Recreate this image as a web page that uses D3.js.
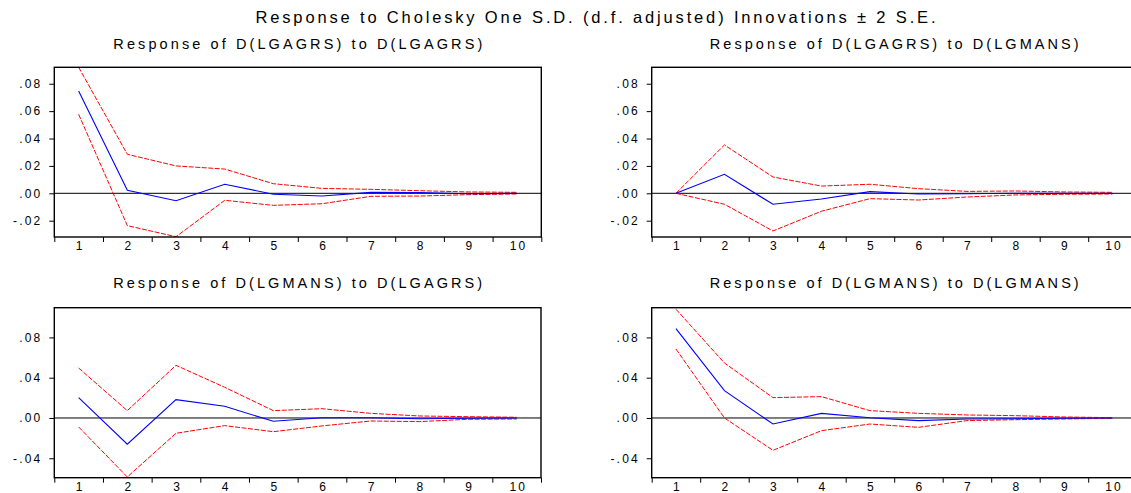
<!DOCTYPE html>
<html>
<head>
<meta charset="utf-8">
<script src="https://cdn.jsdelivr.net/npm/d3@7"></script>
<style>
  body { margin: 0; background: #fff; }
  svg { display: block; font-family: "Liberation Sans", Arial, sans-serif; }
  .tick text { font-size: 12px; letter-spacing: 2.2px; fill: #000; }
  .tick line { stroke: #000; }
</style>
</head>
<body>
<div id="chart"></div>
<script>
// ===== Data =====
const steps = [1, 2, 3, 4, 5, 6, 7, 8, 9, 10];

// Response of D(LGAGRS) to D(LGAGRS)
const resp11  = [0.0747, 0.0022, -0.0054, 0.0066, -0.0007, -0.0020, 0.0007, 0.0005, -0.0003, 0.0000];
const upper11 = [0.0920, 0.0285, 0.0200, 0.0177, 0.0070, 0.0036, 0.0029, 0.0019, 0.0010, 0.0007];
const lower11 = [0.0577, -0.0236, -0.0317, -0.0051, -0.0088, -0.0076, -0.0022, -0.0020, -0.0010, -0.0005];

// Response of D(LGAGRS) to D(LGMANS)
const resp12  = [0.0000, 0.0139, -0.0080, -0.0042, 0.0012, -0.0005, -0.0003, 0.0000, 0.0000, 0.0000];
const upper12 = [0.0000, 0.0353, 0.0119, 0.0053, 0.0066, 0.0034, 0.0014, 0.0017, 0.0010, 0.0007];
const lower12 = [0.0000, -0.0080, -0.0275, -0.0131, -0.0039, -0.0049, -0.0027, -0.0012, -0.0007, -0.0005];

// Response of D(LGMANS) to D(LGAGRS)
const resp21  = [0.0202, -0.0261, 0.0182, 0.0116, -0.0033, 0.0003, 0.0003, -0.0007, -0.0003, 0.0000];
const upper21 = [0.0496, 0.0073, 0.0523, 0.0305, 0.0073, 0.0092, 0.0046, 0.0020, 0.0013, 0.0007];
const lower21 = [-0.0089, -0.0586, -0.0152, -0.0076, -0.0136, -0.0079, -0.0030, -0.0036, -0.0013, -0.0010];

// Response of D(LGMANS) to D(LGMANS)
const resp22  = [0.0887, 0.0271, -0.0060, 0.0046, 0.0003, -0.0026, -0.0010, -0.0007, -0.0003, 0.0000];
const upper22 = [0.1080, 0.0546, 0.0202, 0.0212, 0.0073, 0.0046, 0.0030, 0.0023, 0.0010, 0.0003];
const lower22 = [0.0685, 0.0000, -0.0321, -0.0126, -0.0060, -0.0093, -0.0026, -0.0017, -0.0010, -0.0003];

// axis ranges and tick labels
const yDomainTop = [-0.0319, 0.0920];
const yDomainBottom = [-0.0593, 0.1095];
const yTicksTop = [-0.02, 0.00, 0.02, 0.04, 0.06, 0.08];
const yTicksBottom = [-0.04, 0.00, 0.04, 0.08];

const mainTitle = 'Response to Cholesky One S.D. (d.f. adjusted) Innovations \u00b1 2 S.E.';
const panelTitles = [
  'Response of D(LGAGRS) to D(LGAGRS)',
  'Response of D(LGAGRS) to D(LGMANS)',
  'Response of D(LGMANS) to D(LGAGRS)',
  'Response of D(LGMANS) to D(LGMANS)'
];

// ===== Layout =====
const W = 1131, H = 493;
const panels = [
  { x0: 54.3, x1: 541.3, y0: 67.3, y1: 237, dom: yDomainTop, ticks: yTicksTop, resp: resp11, up: upper11, lo: lower11, title: panelTitles[0], ty: 49 },
  { x0: 651.7, x1: 1136.7, y0: 67.3, y1: 237, dom: yDomainTop, ticks: yTicksTop, resp: resp12, up: upper12, lo: lower12, title: panelTitles[1], ty: 49 },
  { x0: 54.3, x1: 541.0, y0: 307.7, y1: 477.7, dom: yDomainBottom, ticks: yTicksBottom, resp: resp21, up: upper21, lo: lower21, title: panelTitles[2], ty: 288 },
  { x0: 651.7, x1: 1136.7, y0: 307.7, y1: 477.7, dom: yDomainBottom, ticks: yTicksBottom, resp: resp22, up: upper22, lo: lower22, title: panelTitles[3], ty: 288 }
];

const svg = d3.select('#chart')
  .append('svg')
  .attr('width', W)
  .attr('height', H);

svg.append('rect').attr('width', W).attr('height', H).attr('fill', '#fff');

svg.append('text')
  .attr('x', 595.5)
  .attr('y', 22.5)
  .attr('text-anchor', 'middle')
  .attr('font-size', 16.5)
  .attr('textLength', 680)
  .attr('lengthAdjust', 'spacing')
  .text(mainTitle);

// "-.02" style labels, as EViews prints them
const fmt = v => {
  if (Math.abs(v) < 1e-9) return '.00';
  const s = d3.format('.2f')(Math.abs(v)).replace(/^0/, '');
  return (v < 0 ? '-' : '') + s;
};

panels.forEach((p, i) => {
  const w = p.x1 - p.x0, h = p.y1 - p.y0;
  const g = svg.append('g').attr('transform', `translate(${p.x0},${p.y0})`);

  const x = d3.scaleLinear().domain([0.5, 10.5]).range([0, w]);
  const y = d3.scaleLinear().domain(p.dom).range([h, 0]);

  svg.append('text')
    .attr('x', p.x0 + w / 2)
    .attr('y', p.ty)
    .attr('text-anchor', 'middle')
    .attr('font-size', 14.5)
    .attr('textLength', 369)
    .attr('lengthAdjust', 'spacing')
    .text(p.title);

  // y axis
  g.append('g')
    .call(d3.axisLeft(y).tickValues(p.ticks).tickSize(5).tickPadding(9).tickFormat(fmt))
    .call(a => a.select('.domain').remove())
    .call(a => a.selectAll('text').attr('dx', '2.2px'));

  // x axis: tick marks between steps, labels on the steps
  g.append('g')
    .attr('transform', `translate(0,${h})`)
    .call(d3.axisBottom(x).tickValues(d3.range(0.5, 11, 1)).tickSize(5).tickFormat(''))
    .call(a => a.select('.domain').remove());

  g.append('g')
    .attr('transform', `translate(0,${h})`)
    .call(d3.axisBottom(x).tickValues(steps).tickSize(0).tickPadding(4.5).tickFormat(d3.format('d')))
    .call(a => a.select('.domain').remove())
    .call(a => a.selectAll('text').attr('dx', '1.1px'));

  const clipId = `clip${i}`;
  g.append('clipPath').attr('id', clipId)
    .append('rect').attr('width', w).attr('height', h);

  const plot = g.append('g').attr('clip-path', `url(#${clipId})`);

  plot.append('line')
    .attr('x1', 0).attr('x2', w)
    .attr('y1', y(0)).attr('y2', y(0))
    .attr('stroke', '#000').attr('stroke-width', 1);

  const line = d3.line().x((d, j) => x(steps[j])).y(d => y(d));

  [p.up, p.lo].forEach(band => {
    plot.append('path')
      .datum(band)
      .attr('d', line)
      .attr('fill', 'none')
      .attr('stroke', '#ff0000')
      .attr('stroke-width', 1)
      .attr('stroke-dasharray', '5,1.5');
  });

  plot.append('path')
    .datum(p.resp)
    .attr('d', line)
    .attr('fill', 'none')
    .attr('stroke', '#0000ff')
    .attr('stroke-width', 1.1);

  // frame
  g.append('rect')
    .attr('width', w).attr('height', h)
    .attr('fill', 'none')
    .attr('stroke', '#000')
    .attr('stroke-width', 1.4);
});
</script>
</body>
</html>
